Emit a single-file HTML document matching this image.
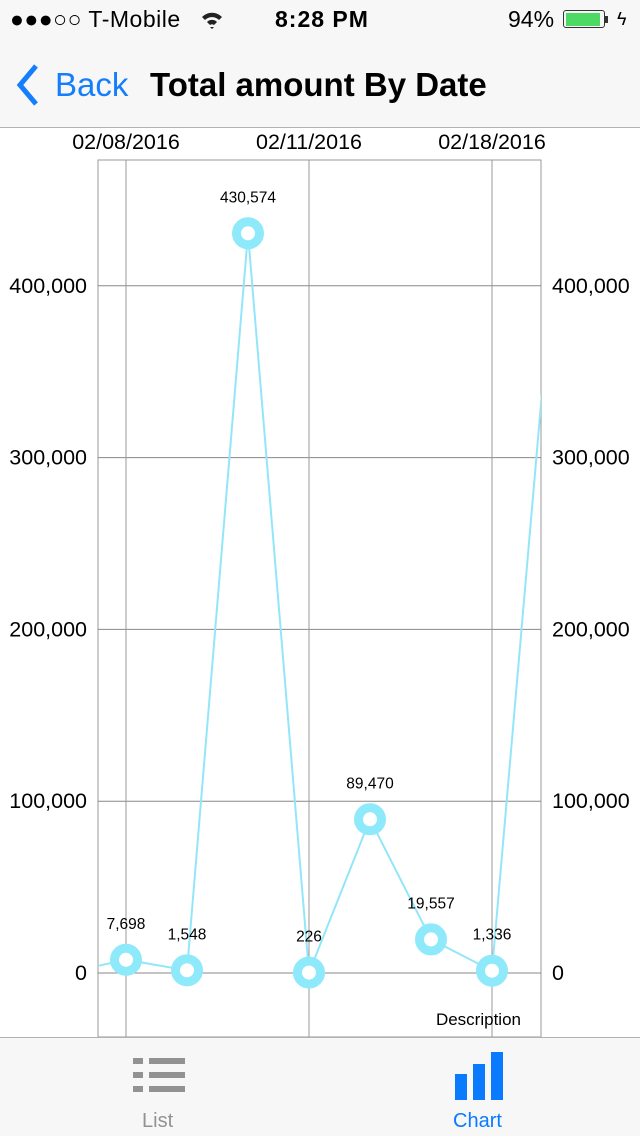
<!DOCTYPE html>
<html><head><meta charset="utf-8"><style>
body{margin:0;width:640px;height:1136px;overflow:hidden;background:#fff;font-family:"Liberation Sans",sans-serif;position:relative}
.abs{position:absolute}
</style></head><body>
<div class="abs" style="left:0;top:0;width:640px;height:128px;background:#f7f7f7;border-bottom:1px solid #b2b2b2;box-sizing:border-box">
 <div class="abs" style="left:10px;top:6px;font-size:23px;letter-spacing:0.5px">●●●○○ T-Mobile</div>
 <svg class="abs" style="left:200px;top:10px" width="24" height="20"><path d="M2 7 A14 14 0 0 1 22 7 L19 10 A10 10 0 0 0 5 10Z M7 12 A7 7 0 0 1 17 12 L14 15 A3 3 0 0 0 10 15Z M10 17 L12 19 L14 17Z" fill="#222"/></svg>
 <div class="abs" style="left:275px;top:6px;font-size:23px;font-weight:bold;letter-spacing:1px">8:28 PM</div>
 <div class="abs" style="left:508px;top:6px;font-size:23px">94%</div>
 <div class="abs" style="left:563px;top:10px;width:42px;height:18px;border:1.5px solid #333;border-radius:3px;box-sizing:border-box;padding:1.5px"><div style="width:92%;height:100%;background:#4cd964"></div></div>
 <div class="abs" style="left:605px;top:16px;width:3px;height:7px;background:#333"></div>
 <div class="abs" style="left:617px;top:9px;font-size:18px">ϟ</div>
 <svg class="abs" style="left:14px;top:63px" width="30" height="44"><path d="M22 3 L6 22 L22 41" stroke="#147efb" stroke-width="5" fill="none"/></svg>
 <div class="abs" style="left:55px;top:66px;font-size:33px;color:#147efb">Back</div>
 <div class="abs" style="left:150px;top:66px;font-size:33px;font-weight:bold">Total amount By Date</div>
</div>
<svg class="abs" style="left:0;top:128px" width="640" height="909" id="chart"></svg>
<div class="abs" style="left:0;top:1037px;width:640px;height:99px;background:#f7f7f8;border-top:1px solid #b2b2b2;box-sizing:border-box">
 <svg class="abs" style="left:133px;top:20px" width="52" height="36"><g fill="#929292"><rect x="0" y="0" width="10" height="6"/><rect x="16" y="0" width="36" height="6"/><rect x="0" y="14" width="10" height="6"/><rect x="16" y="14" width="36" height="6"/><rect x="0" y="28" width="10" height="6"/><rect x="16" y="28" width="36" height="6"/></g></svg>
 <div class="abs" style="left:142px;top:72px;font-size:20px;color:#929292">List</div>
 <svg class="abs" style="left:455px;top:14px" width="50" height="50"><g fill="#0a7afe"><rect x="0" y="22" width="12" height="26"/><rect x="18" y="12" width="12" height="36"/><rect x="36" y="0" width="12" height="48"/></g></svg>
 <div class="abs" style="left:453px;top:72px;font-size:20px;color:#0a7afe">Chart</div>
</div>
<script>
const dates=["02/08/2016","02/11/2016","02/18/2016"];
const dateIdx=[1,4,7];
const values=[0,7698,1548,430574,226,89470,19557,1336,412000];
const labels=["","7,698","1,548","430,574","226","89,470","19,557","1,336",""];
const yTicks=[0,100000,200000,300000,400000];
const yTickLabels=["0","100,000","200,000","300,000","400,000"];
const NS="http://www.w3.org/2000/svg";
const svg=document.getElementById('chart');
const L=98,R=541,T=32,B=909;
const x=i=>65+(i)*61;
const y=v=>845-v*171.8/100000;
function mk(t,a,p){const e=document.createElementNS(NS,t);for(const k in a)e.setAttribute(k,a[k]);(p||svg).appendChild(e);return e;}
const defs=mk('defs',{});const cp=mk('clipPath',{id:'cp'},defs);mk('rect',{x:L,y:T,width:R-L,height:B-T},cp);
mk('rect',{x:L,y:T,width:R-L,height:B-T,fill:'none',stroke:'#999','stroke-width':1});
yTicks.forEach((v,i)=>{
 const l=mk('line',{x1:L,x2:R,y1:y(v),y2:y(v),stroke:'#888','stroke-width':1});
 
 
 const a=mk('text',{x:L-11,y:y(v)+7,'text-anchor':'end','font-size':21.5,fill:'#000'});a.textContent=yTickLabels[i];
 
 
 const b=mk('text',{x:R+11,y:y(v)+7,'font-size':21.5,fill:'#000'});b.textContent=yTickLabels[i];
 
 
});
dates.forEach((d,i)=>{
 const xx=x(dateIdx[i]);
 const l=mk('line',{x1:xx,x2:xx,y1:T,y2:B,stroke:'#999','stroke-width':1});
 
 
 const t=mk('text',{x:xx,y:21,'text-anchor':'middle','font-size':21.5,fill:'#000'});t.textContent=d;
 
 
});
const g=mk('g',{'clip-path':'url(#cp)'});
const pl=mk('polyline',{points:values.map((v,i)=>x(i)+','+y(v)).join(' '),fill:'none',stroke:'#93e6f9','stroke-width':2},g);


values.forEach((v,i)=>{
 if(i==0||i==values.length-1)return;
 const c=mk('circle',{cx:x(i),cy:y(v),r:11.5,fill:'#fff',stroke:'#8ee9fb','stroke-width':9});
 
 
 const t=mk('text',{x:x(i),y:y(v)-31,'text-anchor':'middle','font-size':15.5,fill:'#000'});t.textContent=labels[i];
 
 
});
const d=mk('text',{x:521,y:897,'text-anchor':'end','font-size':17,fill:'#000'});d.textContent='Description';


</script>
</body></html>
